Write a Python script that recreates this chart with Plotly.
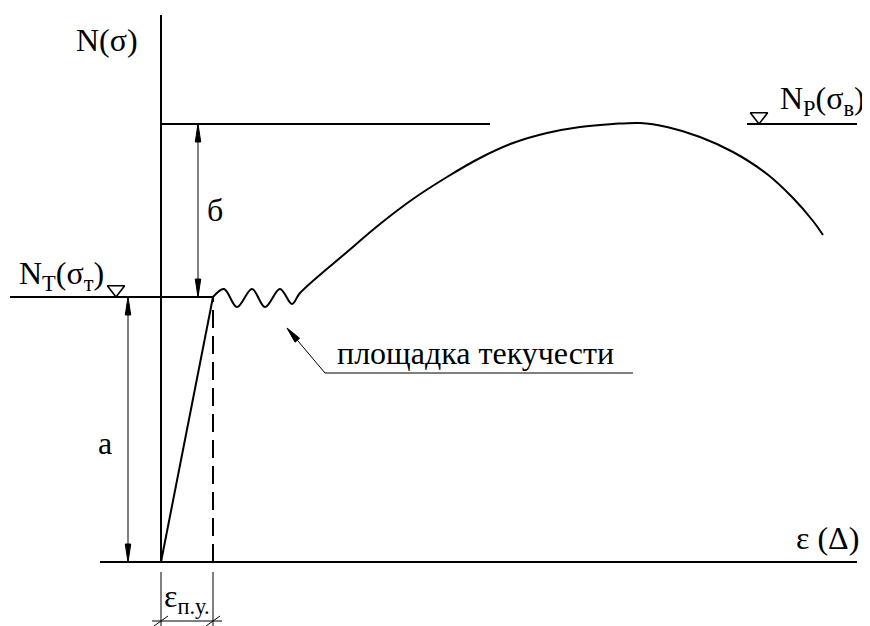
import plotly.graph_objects as go

# diagram units: strain (x) and force (y), origin at the axes crossing
eps_py = 52          # strain at end of elastic part
N_yield = 265        # yield force level
N_ult = 438          # ultimate force level

# yield plateau wave + hardening curve
curve_eps = [52, 63, 76, 91, 104, 119, 131, 139, 186, 219, 252, 286, 319, 352,
             386, 419, 452, 479, 506, 539, 572, 606, 632, 652, 662]
curve_N = [265, 273, 255, 273, 255, 273, 258, 269, 310, 338, 363, 385, 404, 419,
           429, 435, 438, 439, 435, 425, 410, 388, 364, 341, 327]

# axes and reference lines
axis_N_top = 547
axis_eps_left, axis_eps_right = -61, 696
yield_line_left = -151
ult_line_right = 329
np_line = [586, 696]

# dimension lines
dim_b_x = 37
dim_a_x = -33
dim_eps_y = -59
ext_top, ext_bottom = -10, -66

# leader for the yield plateau
leader_eps = [126, 164, 472]
leader_N = [234, 189, 189]

BLACK = "black"
FONT = "Liberation Serif"

fig = go.Figure()


def line(x, y, width=2, dash=None, shape="linear"):
    fig.add_trace(go.Scatter(x=x, y=y, mode="lines", hoverinfo="skip",
                             line=dict(color=BLACK, width=width, dash=dash, shape=shape)))


def head(tx, ty, dx, dy, length=18, width=5.5):
    n = (dx * dx + dy * dy) ** 0.5
    ux, uy = dx / n, dy / n
    bx, by = tx - length * ux, ty - length * uy
    px, py = -uy * width / 2, ux * width / 2
    fig.add_trace(go.Scatter(x=[tx, bx + px, bx - px, tx], y=[ty, by + py, by - py, ty],
                             mode="lines", fill="toself", fillcolor=BLACK,
                             line=dict(color=BLACK, width=1), hoverinfo="skip"))


# main axes
line([0, 0], [0, axis_N_top])
line([axis_eps_left, axis_eps_right], [0, 0])

# levels
line([yield_line_left, eps_py], [N_yield, N_yield])
line([0, ult_line_right], [N_ult, N_ult])
line(np_line, [N_ult, N_ult])

# elastic part, dashed projection
line([0, eps_py], [0, N_yield])
line([eps_py, eps_py], [0, N_yield], dash="18px,8px")

# curve
line(curve_eps, curve_N, shape="spline")

# dimension б
line([dim_b_x, dim_b_x], [N_yield, N_ult], width=1)
head(dim_b_x, N_ult, 0, 1)
head(dim_b_x, N_yield, 0, -1)

# dimension а
line([dim_a_x, dim_a_x], [0, N_yield], width=1)
head(dim_a_x, N_yield, 0, 1)
head(dim_a_x, 0, 0, -1)

# dimension ε п.у.
line([0, 0], [ext_top, ext_bottom], width=1)
line([eps_py, eps_py], [ext_top, ext_bottom], width=1)
line([-9, eps_py + 9], [dim_eps_y, dim_eps_y], width=1)
for xe in [0, eps_py]:
    line([xe - 7, xe + 7], [dim_eps_y - 5, dim_eps_y + 5], width=1)

# leader
line(leader_eps, leader_N, width=1)
head(leader_eps[0], leader_N[0], leader_eps[0] - leader_eps[1], leader_N[0] - leader_N[1], length=16, width=6)

# level triangles
tri = 15
fig.add_trace(go.Scatter(x=[-45, 598], y=[N_yield + tri / 2, N_ult + tri / 2], mode="markers",
                         hoverinfo="skip",
                         marker=dict(symbol="triangle-down-open", size=tri, color=BLACK,
                                     line=dict(width=1.6, color=BLACK))))

labels = [
    (-54, 522, "N(σ)", "center"),
    (54, 352, "б", "center"),
    (-56, 119, "а", "center"),
    (-100, 287, "N<sub>Т</sub>(σ<sub>т</sub>)", "center"),
    (706, 462, "N<sub>Р</sub>(σ<sub>в</sub>)", "right"),
    (666, 24, "ε (Δ)", "center"),
    (26, -36, "ε<sub>п.у.</sub>", "center"),
]
for x, y, t, xa in labels:
    fig.add_annotation(x=x, y=y, text=t, showarrow=False, xanchor=xa,
                       font=dict(family=FONT, size=32, color=BLACK))

fig.add_annotation(x=174, y=189, text="площадка текучести", showarrow=False,
                   xanchor="left", yanchor="bottom",
                   font=dict(family=FONT, size=32, color=BLACK))

# page body adds an 8px offset, so the ranges are shifted to keep the origin in place
fig.update_layout(width=870, height=626, margin=dict(l=0, r=0, t=0, b=0),
                  font=dict(family=FONT, color=BLACK),
                  showlegend=False, plot_bgcolor="white", paper_bgcolor="white",
                  xaxis=dict(range=[-153, 717], visible=False),
                  yaxis=dict(range=[-72, 554], visible=False))

fig.write_html("out.html")
